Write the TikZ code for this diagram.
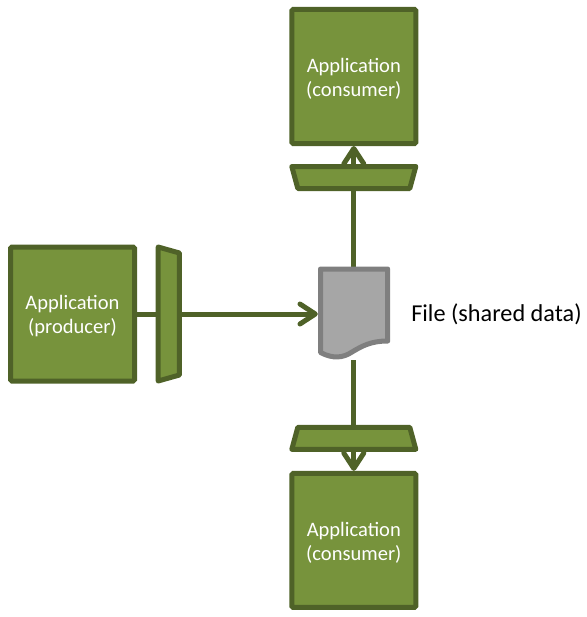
\documentclass[tikz,border=0pt]{standalone}
\usepackage{fontspec}
\setmainfont{Carlito}
\usetikzlibrary{arrows.meta}
\pgfdeclarelayer{back}
\pgfsetlayers{back,main}
\definecolor{lineg}{HTML}{4F6228}
\definecolor{fillg}{HTML}{77933C}
\definecolor{lineh}{HTML}{7F7F7F}
\definecolor{fillh}{HTML}{A6A6A6}
\newcommand{\boxtext}[2]{\raisebox{-1.6pt}[\height][\depth]{\parbox{90pt}{\centering #1\\#2}}}
\tikzset{
  x=0.75pt,y=-0.75pt,
  appbox/.style={rectangle,draw=lineg,fill=fillg,line width=3.75pt,rounded corners=1pt,
    minimum width=93pt,minimum height=100.5pt,inner sep=0pt,text=white,
    align=center,font=\fontsize{15.4}{18}\selectfont},
  gatemark/.style={rectangle,draw=none,fill=none,inner sep=0pt,outer sep=0pt},
  hgate/.style={gatemark,minimum width=93pt,minimum height=16.5pt},
  vgate/.style={gatemark,minimum width=16pt,minimum height=100.5pt},
  gatebody/.style={draw=lineg,fill=fillg,line width=3.75pt,line join=round},
  link/.style={draw=lineg,line width=3.75pt},
  openhead/.style={-{Straight Barb[length=11.5pt,width=15pt,line cap=round,round]}},
  filemark/.style={draw=none,fill=none,inner sep=0pt,outer sep=0pt,minimum width=54pt,minimum height=69pt},
  filebody/.style={draw=lineh,fill=fillh,line width=3.75pt,line join=round},
  lbl/.style={font=\fontsize{18.2}{22}\selectfont,text=black,inner sep=0pt,anchor=west}
}
\begin{document}
\begin{tikzpicture}
\useasboundingbox (0,0) rectangle (586,617);
\node[appbox] (top) at (353.8,76.5) {\boxtext{Application}{(consumer)}};
\node[appbox] (left) at (72.5,314) {\boxtext{Application}{(producer)}};
\node[appbox] (bot) at (353.8,540.4) {\boxtext{Application}{(consumer)}};
\node[hgate] (gt) at (353.8,177.5) {};
\node[hgate] (gb) at (353.8,438.3) {};
\node[vgate] (gl) at (168.8,314) {};
\filldraw[gatebody] (gt.north west) -- (gt.north east) -- ([xshift=-4.5pt]gt.south east) -- ([xshift=4.5pt]gt.south west) -- cycle;
\filldraw[gatebody] ([xshift=4.5pt]gb.north west) -- ([xshift=-4.5pt]gb.north east) -- (gb.south east) -- (gb.south west) -- cycle;
\filldraw[gatebody] (gl.north west) -- ([yshift=-4.5pt]gl.north east) -- ([yshift=4.5pt]gl.south east) -- (gl.south west) -- cycle;
\node[filemark] (file) at (353.8,314) {};
\filldraw[filebody] (320.5,269) -- (387.7,269) -- (387.7,341)
  .. controls (371,341) and (362,346) .. (352,352)
  .. controls (343,358) and (333,359) .. (320.5,352.5) -- cycle;
\node[lbl] (lab) at (411,314) {File (shared data)};
\begin{pgfonlayer}{back}
\draw[link] (left.east) -- (gl.west);
\draw[link,openhead] (gl.east) -- (file.west);
\draw[link,openhead] (file.north) -- (top.south);
\draw[link,openhead] (file.south) -- (bot.north);
\end{pgfonlayer}
\end{tikzpicture}
\end{document}
